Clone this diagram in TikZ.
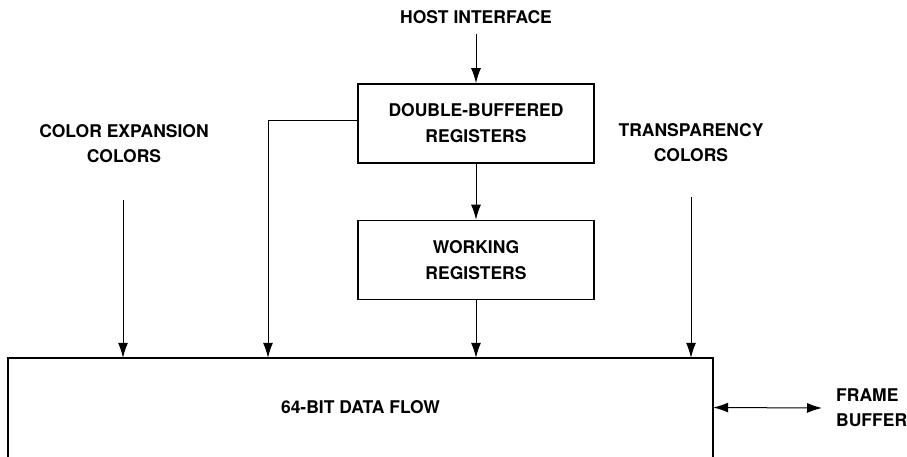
\documentclass[tikz,border=0pt]{standalone}
\usepackage{fontspec}
\setmainfont{TeX Gyre Heros}
\usetikzlibrary{arrows.meta}
\begin{document}
\begin{tikzpicture}[x=1pt,y=-1pt,
  lbl/.style={font=\bfseries\fontsize{17.5}{25}\selectfont, align=center, inner sep=0pt},
  regbox/.style={draw, line width=1.8pt, minimum width=236pt, minimum height=79pt, font=\bfseries\fontsize{17.5}{26}\selectfont, align=center, inner sep=0pt},
  conn/.style={line width=1pt, -{Latex[length=15pt,width=10pt]}},
  dconn/.style={line width=1pt, {Latex[length=15pt,width=10pt]}-{Latex[length=15pt,width=10pt]}}]
\useasboundingbox (0,0) rectangle (907,457);
\node[lbl] (host) at (476,17) {HOST INTERFACE};
\node[regbox] (db) at (476,123.5) {DOUBLE-BUFFERED\\REGISTERS};
\node[regbox] (wr) at (476,260) {WORKING\\REGISTERS};
\node[lbl] (ce) at (124,144) {COLOR EXPANSION\\COLORS};
\node[lbl] (tc) at (691,143) {TRANSPARENCY\\COLORS};
\node[minimum width=705pt, minimum height=99pt, inner sep=0pt, font=\bfseries\fontsize{17.5}{25}\selectfont] (flow) at (360.5,407.5) {64-BIT DATA FLOW};
\node[lbl, align=left, anchor=west] (fb) at (836,408) {FRAME\\BUFFER};
\draw[line width=1.8pt] (flow.south west) -- (flow.north west) -- (flow.north east) -- (flow.south east);
\coordinate (hs) at (476,34);
\coordinate (ces) at (123,200);
\coordinate (tcs) at (691,197);
\coordinate (lx) at (268,121);
\draw[conn] (hs) -- (db.north);
\draw[conn] (db.south) -- (wr.north);
\draw[conn] (wr.south) -- (wr.south |- flow.north);
\draw[conn] (ces) -- (ces |- flow.north);
\draw[conn] (tcs) -- (tcs |- flow.north);
\draw[conn] (db.west |- lx) -- (lx) -- (lx |- flow.north);
\draw[dconn] (flow.east) -- (fb.west -| 822,0);
\end{tikzpicture}
\end{document}
